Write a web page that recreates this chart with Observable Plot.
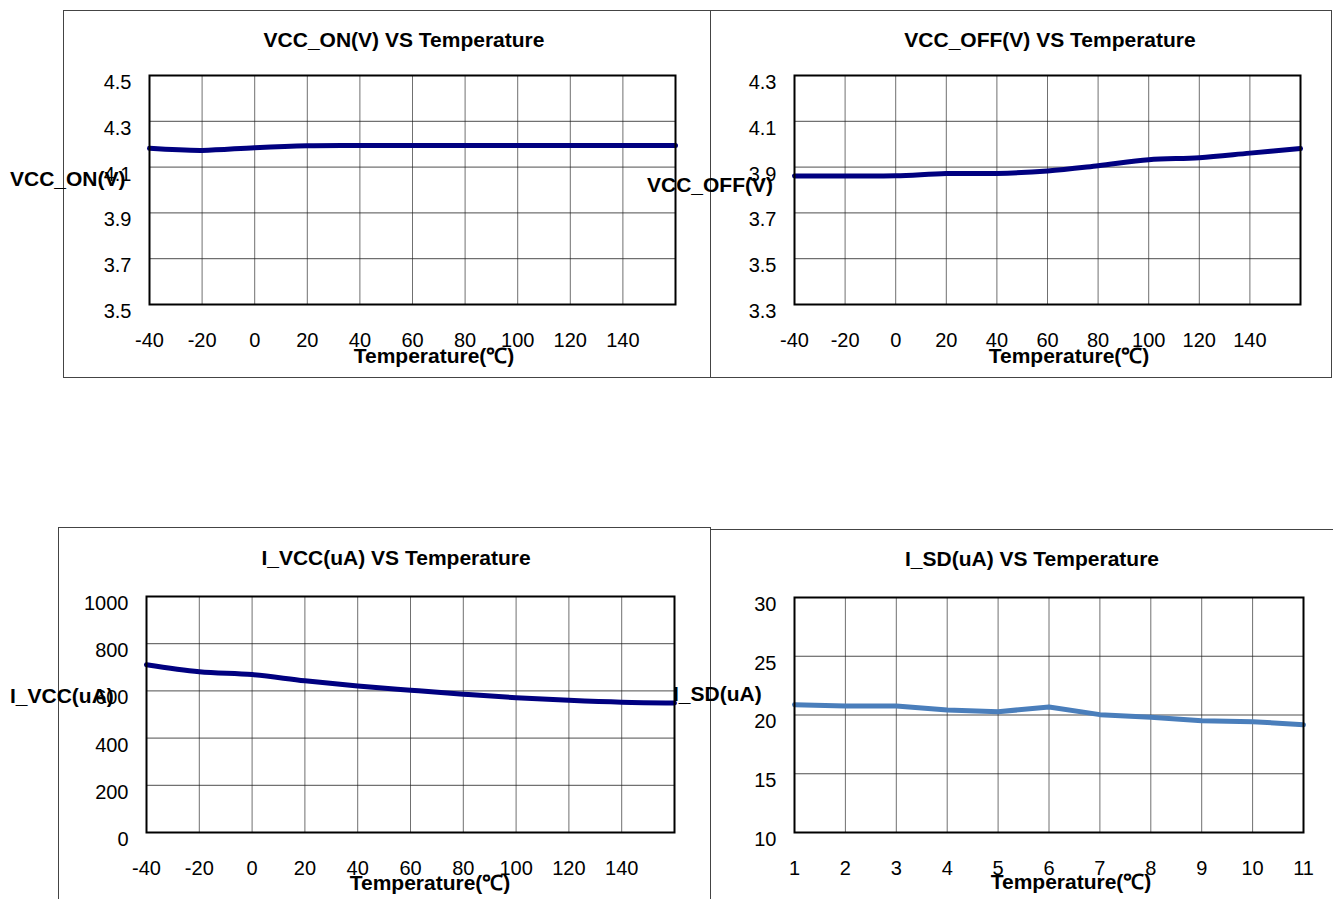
<!DOCTYPE html>
<html><head><meta charset="utf-8">
<script src="https://cdn.jsdelivr.net/npm/d3@7"></script>
<script src="https://cdn.jsdelivr.net/npm/@observablehq/plot@0.6"></script>
<style>
body{margin:0;background:#fff;font-family:"Liberation Sans",Arial,sans-serif;}
#root{position:relative;width:1333px;height:899px;overflow:hidden;background:#fff;}
.frame{position:absolute;border:1px solid #444;box-sizing:border-box;}
.lbl{position:absolute;font-weight:bold;font-size:21px;line-height:1;white-space:nowrap;color:#000;}
.c{transform:translate(-50%,-50%);}
.l{transform:translate(0,-50%);}
.plot{position:absolute;}
</style></head><body><div id="root"></div>
<script>
// ---- data ----
const tempC = [-40, -20, 0, 20, 40, 60, 80, 100, 120, 140, 160];
const tempTicks = [-40, -20, 0, 20, 40, 60, 80, 100, 120, 140];
const vccOn = [4.182, 4.173, 4.185, 4.193, 4.194, 4.194, 4.194, 4.194, 4.194, 4.194, 4.194];
const vccOnTicks = [3.5, 3.7, 3.9, 4.1, 4.3, 4.5];
const vccOff = [3.861, 3.861, 3.862, 3.872, 3.872, 3.883, 3.906, 3.932, 3.941, 3.961, 3.981];
const vccOffTicks = [3.3, 3.5, 3.7, 3.9, 4.1, 4.3];
const iVcc = [711, 681, 669, 643, 621, 603, 586, 571, 560, 552, 549];
const iVccTicks = [0, 200, 400, 600, 800, 1000];
const sdIndex = [1, 2, 3, 4, 5, 6, 7, 8, 9, 10, 11];
const iSd = [20.88, 20.77, 20.77, 20.43, 20.28, 20.68, 20.03, 19.8, 19.51, 19.43, 19.17];
const iSdTicks = [10, 15, 20, 25, 30];

const titles = ["VCC_ON(V) VS Temperature", "VCC_OFF(V) VS Temperature", "I_VCC(uA) VS Temperature", "I_SD(uA) VS Temperature"];
const yLabels = ["VCC_ON(V)", "VCC_OFF(V)", "I_VCC(uA)", "I_SD(uA)"];
const xLabel = "Temperature(℃)";

const root = document.getElementById("root");

function addDiv(cls, text, x, y) {
  const d = document.createElement("div");
  d.className = cls;
  d.textContent = text;
  d.style.left = x + "px";
  d.style.top = y + "px";
  root.appendChild(d);
}
function addFrame(x, y, w, h) {
  const d = document.createElement("div");
  d.className = "frame";
  Object.assign(d.style, {left: x + "px", top: y + "px", width: w + "px", height: h + "px"});
  root.appendChild(d);
}

const plain = d => String(d);
const panels = [
  {box: [63, 10, 647, 367], m: [65, 35, 73, 86], xs: tempC, ys: vccOn, xd: [-40, 160], xt: tempTicks, xg: tempC, yd: [3.5, 4.5], yt: vccOnTicks, fmt: d => d.toFixed(1), color: "#000080", curve: "catmull-rom",
   title: [404, 39], yl: [10, 178], xl: [434, 355]},
  {box: [710, 10, 621, 367], m: [65, 31, 73, 84], xs: tempC, ys: vccOff, xd: [-40, 160], xt: tempTicks, xg: tempC, yd: [3.3, 4.3], yt: vccOffTicks, fmt: d => d.toFixed(1), color: "#000080", curve: "catmull-rom",
   title: [1050, 39], yl: [647, 184], xl: [1069, 355]},
  {box: [58, 527, 652, 372], m: [69, 36, 67, 88], xs: tempC, ys: iVcc, xd: [-40, 160], xt: tempTicks, xg: tempC, yd: [0, 1000], yt: iVccTicks, fmt: plain, color: "#000080", curve: "catmull-rom",
   title: [396, 557], yl: [10, 695], xl: [430, 882]},
  {box: [710, 529, 623, 370], m: [68, 30, 67, 84], xs: sdIndex, ys: iSd, xd: [1, 11], xt: sdIndex, xg: sdIndex, yd: [10, 30], yt: iSdTicks, fmt: plain, color: "#4a7ebb", curve: "linear",
   title: [1032, 558], yl: [673, 693], xl: [1071, 881]}
];

panels.forEach((p, i) => {
  const [bx, by, bw, bh] = p.box;
  addFrame(bx, by, bw + 1, bh + 1);
  const data = p.xs.map((x, k) => ({x, y: p.ys[k]}));
  const svg = Plot.plot({
    width: bw, height: bh,
    marginTop: p.m[0], marginRight: p.m[1], marginBottom: p.m[2], marginLeft: p.m[3],
    style: {fontFamily: "'Liberation Sans', Arial, sans-serif", background: "transparent", overflow: "visible"},
    x: {domain: p.xd},
    y: {domain: p.yd},
    marks: [
      Plot.gridX(p.xg, {stroke: "#333", strokeOpacity: 0.7, strokeWidth: 1}),
      Plot.gridY(p.yt, {stroke: "#222", strokeOpacity: 0.8, strokeWidth: 1}),
      Plot.axisY(p.yt, {tickSize: 0, tickPadding: 18, fontSize: 20, dy: 7, tickFormat: p.fmt, fill: "#000", label: null}),
      Plot.axisX(p.xt, {tickSize: 0, tickPadding: 28, fontSize: 20, tickFormat: plain, fill: "#000", label: null}),
      Plot.line(data, {x: "x", y: "y", stroke: p.color, strokeWidth: 5, curve: p.curve}),
      Plot.frame({stroke: "#000", strokeWidth: 2})
    ]
  });
  svg.classList.add("plot");
  svg.style.left = bx + "px";
  svg.style.top = by + "px";
  root.appendChild(svg);
  addDiv("lbl c", titles[i], p.title[0], p.title[1]);
  addDiv("lbl l", yLabels[i], p.yl[0], p.yl[1]);
  addDiv("lbl c", xLabel, p.xl[0], p.xl[1]);
});
</script></body></html>
